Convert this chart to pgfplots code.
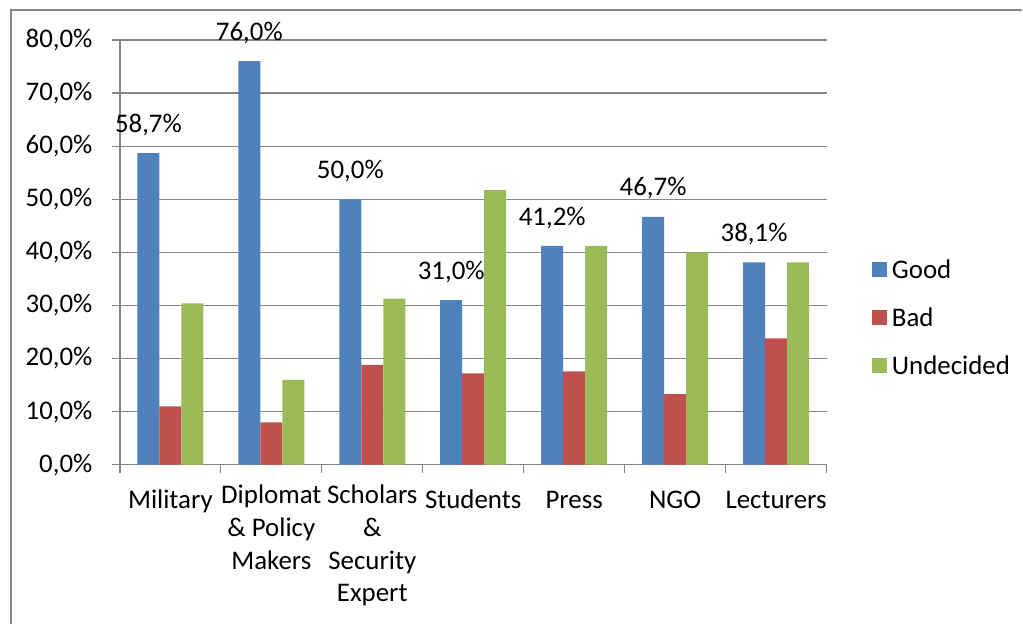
\documentclass[border=0pt]{standalone}
\usepackage{pgfplots}
\pgfplotsset{compat=1.18}
\usepackage{fontspec}
\setmainfont{Carlito}
\definecolor{cgood}{HTML}{4F81BD}
\definecolor{cbad}{HTML}{C0504D}
\definecolor{cund}{HTML}{9BBB59}
\definecolor{cgrid}{RGB}{134,134,134}
\begin{document}
\begin{tikzpicture}
\path (0,0) rectangle (1023bp,624bp);
\draw[cgrid, line width=1.2bp] (11bp,0) -- (11bp,614bp) -- (1023bp,614bp);
\begin{axis}[
  at={(120bp,159bp)}, anchor=south west,
  scale only axis, width=707bp, height=425bp,
  xmin=-0.5, xmax=6.5, ymin=0, ymax=80,
  clip=false,
  axis x line*=bottom, axis y line*=left,
  axis line style={cgrid, line width=1.2bp, -},
  ymajorgrids, grid style={cgrid, line width=1.2bp},
  ytick={0,10,...,80},
  yticklabel={\pgfmathprintnumber[fixed,fixed zerofill,precision=1,use comma]{\tick}\%},
  /pgf/number format/assume math mode=true,
  xtick={0,...,6},
  xticklabels={Military, Diplomat\\\& Policy\\Makers, Scholars\\\&\\Security\\Expert, Students, Press, NGO, Lecturers},
  minor xtick={-0.5,0.5,...,6.5},
  tick align=outside,
  major tick length=8bp,
  minor tick length=8bp,
  x tick style={draw=none},
  minor x tick style={draw=cgrid, line width=1.2bp},
  y tick style={cgrid, line width=1.2bp},
  ticklabel style={font=\fontsize{27}{32.7}\selectfont},
  xticklabel style={align=center, anchor=north, yshift=-9bp, execute at begin node=\strut},
  yticklabel style={xshift=-16bp},
  ybar, bar width=22bp,
  legend style={draw=none, at={(1.064,0.346)}, anchor=west, font=\fontsize{27}{32}\selectfont,
    row sep=28bp, inner sep=0pt, nodes={inner xsep=5bp, inner ysep=0pt}},
  legend cell align=left,
  legend image code/.code={\fill[#1] (0bp,-7bp) rectangle (15bp,8bp);},
]
\addplot[fill=cgood, draw=none, bar shift=-22bp,
  nodes near coords={\pgfmathprintnumber[fixed,fixed zerofill,precision=1,use comma]{\pgfplotspointmeta}\%},
  nodes near coords style={font=\fontsize{27}{32}\selectfont, anchor=south, yshift=14bp, text=black}]
  coordinates {(0,58.7) (1,76.0) (2,50.0) (3,31.0) (4,41.2) (5,46.7) (6,38.1)};
\addplot[fill=cbad, draw=none, bar shift=0bp]
  coordinates {(0,11.0) (1,8.0) (2,18.8) (3,17.2) (4,17.6) (5,13.3) (6,23.8)};
\addplot[fill=cund, draw=none, bar shift=22bp]
  coordinates {(0,30.4) (1,16.0) (2,31.3) (3,51.7) (4,41.2) (5,40.0) (6,38.1)};
\legend{Good, Bad, Undecided}
\end{axis}
\end{tikzpicture}
\end{document}
